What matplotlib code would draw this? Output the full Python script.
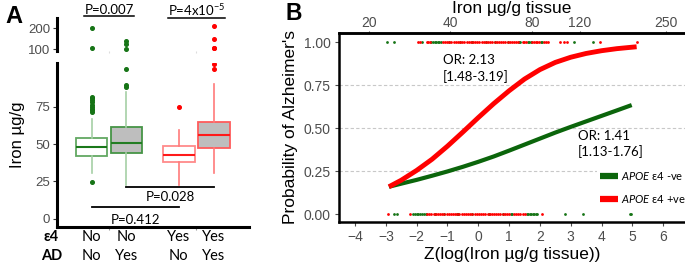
import numpy as np
import matplotlib
matplotlib.use("Agg")
from matplotlib import pyplot as plt
from matplotlib.lines import Line2D

plt.rcParams['font.family'] = ['Liberation Sans', 'DejaVu Sans']
plt.rcParams['mathtext.fontset'] = 'custom'
plt.rcParams['mathtext.rm'] = 'Lato'
plt.rcParams['mathtext.it'] = 'Lato:italic'

CAL = ['Lato', 'DejaVu Sans']

# ---- panel A: brain iron by APOE e4 carrier / AD status ----
e4_labels = ["No", "No", "Yes", "Yes"]
ad_labels = ["No", "Yes", "No", "Yes"]
box_q1 = [42.0, 44.2, 38.2, 47.1]
box_med = [48.0, 50.5, 42.9, 56.1]
box_q3 = [53.9, 61.4, 48.7, 64.8]
whisk_lo = [30.6, 22.5, 22.5, 30.4]
whisk_hi = [66.8, 84.7, 59.6, 90.0]
# outliers drawn in the lower (0-100) segment
fliers_low = [
    [24.8, 71.8, 72.8, 73.8, 75.0, 76.0, 78.2, 79.4, 80.6, 81.8],
    [88.4, 89.4, 100.3],
    [74.6],
    [100.3, 103.4],
]
# outliers drawn in the upper (100-200) segment
fliers_high = [
    [200, 107],
    [141, 126, 101],
    [],
    [211, 147, 107, 104],
]
p_top = ["P=0.007", "P=4x10$^{-5}$"]
p_low = ["P=0.028", "P=0.412"]

# ---- panel B: logistic fits and observed cases ----
z_red = [-2.9, -2.5, -2.0, -1.5, -1.0, -0.5, 0.0, 0.5, 1.0, 1.5, 2.0, 2.5, 3.0, 3.5, 4.0, 4.5, 5.14]
p_red = [0.160, 0.198, 0.255, 0.320, 0.396, 0.478, 0.562, 0.643, 0.718, 0.786, 0.841, 0.883,
         0.913, 0.935, 0.951, 0.963, 0.974]
z_green = [-2.9, -2.5, -2.0, -1.5, -1.0, -0.5, 0.0, 0.5, 1.0, 1.5, 2.0, 2.5, 3.0, 3.5, 4.0, 4.5, 4.98]
p_green = [0.160, 0.178, 0.200, 0.224, 0.249, 0.276, 0.305, 0.336, 0.370, 0.405, 0.440, 0.475,
           0.508, 0.540, 0.572, 0.604, 0.635]

z_green_ad = [-2.96, -2.72, -1.83, -1.52, -1.47, -1.42, -1.37, -1.32, -1.27, -1.22, -0.95, -0.6, -0.2,
              0.25, 0.55, 0.95, 1.33, 1.37, 1.6, 1.65, 1.7, 2.03, 2.07, 3.11, 3.71]
z_red_ad = [-1.96, -1.89, -1.68, -1.63, -1.58, -1.15, -1.08, -1.01, -0.94, -0.87, -0.8, -0.73, -0.66,
            -0.59, -0.52, -0.45, -0.38, -0.31, -0.24, -0.17, -0.1, -0.03, 0.04, 0.11, 0.18, 0.25, 0.32,
            0.39, 0.46, 0.53, 0.6, 0.67, 0.74, 0.81, 0.88, 0.95, 1.02, 1.09, 1.16, 1.23, 1.29, 1.45,
            1.5, 1.56, 1.74, 1.8, 1.86, 1.92, 1.98, 2.14, 2.2, 2.26, 2.64, 2.77, 2.88, 3.94, 5.14]
z_green_ctrl = [-2.75, -2.64, -2.12, -2.06, -2.0, -1.94, -1.88, -1.82, -1.76, -1.7, -1.4, -1.1, -0.7,
                -0.65, -0.2, 0.35, 0.8, 1.05, 1.1, 1.57, 1.62, 1.67, 1.72, 1.77, 1.82, 1.87, 1.9,
                2.81, 3.41, 4.92, 4.97]
z_red_ctrl = [-2.94, -2.21, -1.66, -1.59, -1.52, -1.45, -1.38, -1.31, -1.24, -1.17, -1.1, -1.03, -0.96,
              -0.89, -0.82, -0.75, -0.68, -0.61, -0.54, -0.47, -0.4, -0.33, -0.26, -0.19, -0.12, -0.05,
              0.02, 0.09, 0.16, 0.23, 0.3, 0.37, 0.44, 0.51, 0.58, 0.65, 0.72, 0.79, 0.86, 0.93, 1.0,
              1.15, 1.22, 1.3, 1.37, 1.44, 1.51, 2.06]
iron_ticks = [20, 40, 80, 120, 250]
log_mean, log_sd = 3.925, 0.262

GREEN = '#167416'
RED = '#ff0000'
GREY = '#4d4d4d'

W, H = 685, 268
fig = plt.figure(figsize=(W / 100, H / 100), dpi=100)


def px_axes(x0, y_top, x1, y_bot):
    return fig.add_axes([x0 / W, 1 - y_bot / H, (x1 - x0) / W, (y_bot - y_top) / H])


# ================= panel A =================
axA = px_axes(57, 63.3, 249, 227)
axT = px_axes(57, 18.3, 249, 50.7)
positions = [0.8, 1.2, 1.8, 2.2]

stats = []
for i in range(4):
    stats.append(dict(med=box_med[i], q1=box_q1[i], q3=box_q3[i],
                      whislo=whisk_lo[i], whishi=whisk_hi[i], fliers=fliers_low[i]))
bp = axA.bxp(stats, positions=positions, widths=0.365, patch_artist=True,
             showcaps=False, manage_ticks=False)

edge_cols = ['#62a862', '#469446', '#ff8a8a', '#ff5c5c']
face_cols = ['white', '#bebebe', 'white', '#bebebe']
med_cols = ['#1a781a', '#237d23', '#ff1a1a', '#ff1a1a']
whisk_cols = ['#a6cfa6', '#a6cfa6', '#ff7a7a', '#ff7a7a']
pt_cols = [GREEN, GREEN, RED, RED]
for i in range(4):
    bp['boxes'][i].set(facecolor=face_cols[i], edgecolor=edge_cols[i], linewidth=1.3)
    bp['medians'][i].set(color=med_cols[i], linewidth=1.5)
    for w in bp['whiskers'][2 * i:2 * i + 2]:
        w.set(color=whisk_cols[i], linewidth=1.2)
    bp['fliers'][i].set(marker='o', markersize=2.6, markerfacecolor=pt_cols[i],
                        markeredgecolor=pt_cols[i], linestyle='none')

for i in range(4):
    if fliers_high[i]:
        axT.plot([positions[i]] * len(fliers_high[i]), fliers_high[i], 'o', ms=2.6,
                 color=pt_cols[i], clip_on=False)

axA.set_xlim(0.404, 2.604)
axA.set_ylim(-5.6, 104.2)
axT.set_xlim(0.404, 2.604)
axT.set_ylim(93.3, 247.6)
axA.set_yticks([0, 25, 50, 75])
axT.set_yticks([100, 200])
axA.set_xticks([1, 2])
axA.set_xticklabels([])
axT.set_xticks([1, 2])
axT.set_xticklabels([])
for a in (axA, axT):
    for s in ('top', 'right'):
        a.spines[s].set_visible(False)
    a.spines['left'].set_linewidth(2.2)
    a.spines['bottom'].set_linewidth(2.2)
    a.tick_params(axis='y', length=3, width=0.8, color='#333333', labelsize=9.5,
                  labelcolor=GREY, pad=2)
    a.tick_params(axis='x', length=2.5, width=0.8, color='#999999')
    a.set_facecolor('none')
axT.spines['bottom'].set_visible(False)
axT.tick_params(axis='x', color='#dddddd', length=1.5)

fig.text(17.5 / W, 1 - 135 / H, "Iron µg/g", rotation=90, ha='center', va='center', fontsize=12)
fig.text(14 / W, 1 - 16.5 / H, "A", fontsize=17, fontweight='bold', ha='center', va='center')

xt = axA.get_xaxis_transform()
for i in range(4):
    axA.text(positions[i], -0.059, e4_labels[i], transform=xt, ha='center', va='center',
             fontsize=10.5, family=CAL)
    axA.text(positions[i], -0.178, ad_labels[i], transform=xt, ha='center', va='center',
             fontsize=10.5, family=CAL)
fig.text(51.5 / W, 1 - 237 / H, "ε4", ha='center', va='center', fontsize=10.5,
         fontweight='bold', family=CAL)
fig.text(52 / W, 1 - 256 / H, "AD", ha='center', va='center', fontsize=10.5,
         fontweight='bold', family=CAL)

# p-value brackets
axA.plot([positions[1], positions[3]], [20.9, 20.9], color='black', lw=1.3, clip_on=False)
axA.text((positions[1] + positions[3]) / 2, 14.3, p_low[0], ha='center', va='center',
         fontsize=9.5, family=CAL)
axA.plot([positions[0], positions[2]], [7.6, 7.6], color='black', lw=1.3, clip_on=False)
axA.text((positions[0] + positions[2]) / 2, -0.6, p_low[1], ha='center', va='center',
         fontsize=9.5, family=CAL)

xtT = axT.get_xaxis_transform()
top_txt = []
for k, xc in enumerate([1, 2]):
    top_txt.append(axT.text(xc, 1.257, p_top[k], transform=xtT, ha='center', va='center',
                            fontsize=9.5, family=CAL))

# ================= panel B =================
axB = px_axes(339, 33, 685, 221.5)
axB.set_xlim(-4.52, 6.71)
axB.set_ylim(-0.042, 1.054)
for yv in [0.25, 0.5, 0.75]:
    axB.axhline(yv, color='#c8c8c8', lw=0.8, ls=(0, (3, 2)), zorder=0)

axB.plot(z_green_ad, np.ones(len(z_green_ad)), 'o', ms=2.0, color=GREEN, mew=0, zorder=2)
axB.plot(z_red_ad, np.ones(len(z_red_ad)), 'o', ms=2.0, color=RED, mew=0, zorder=2)
axB.plot(z_green_ctrl, np.zeros(len(z_green_ctrl)), 'o', ms=2.0, color=GREEN, mew=0, zorder=2)
axB.plot(z_red_ctrl, np.zeros(len(z_red_ctrl)), 'o', ms=2.0, color=RED, mew=0, zorder=2)

axB.plot(z_green, p_green, color='#0b650b', lw=3.0, solid_capstyle='butt',
         solid_joinstyle='round', zorder=3, label=r"$\mathit{APOE}$ ε4 -ve")
axB.plot(z_red, p_red, color=RED, lw=3.5, solid_capstyle='butt',
         solid_joinstyle='round', zorder=4, label=r"$\mathit{APOE}$ ε4 +ve")

axB.set_xticks(range(-4, 7))
axB.set_yticks([0, 0.25, 0.5, 0.75, 1.0])
axB.set_yticklabels(["0.00", "0.25", "0.50", "0.75", "1.00"])
axB.tick_params(length=3, width=0.8, color=GREY, labelcolor=GREY, labelsize=10, pad=3)
axB.spines['right'].set_visible(False)
for s in ('left', 'bottom', 'top'):
    axB.spines[s].set_linewidth(1.8)
axB.set_xlabel("Z(log(Iron µg/g tissue))", fontsize=12.5, labelpad=2)
axB.set_ylabel("Probability of Alzheimer's", fontsize=12.5, labelpad=4)

secax = axB.secondary_xaxis('top', functions=(
    lambda z: np.exp(np.asarray(z) * log_sd + log_mean),
    lambda v: (np.log(np.clip(np.asarray(v, dtype=float), 1e-9, None)) - log_mean) / log_sd))
secax.set_xticks(iron_ticks)
secax.set_xticklabels([str(v) for v in iron_ticks])
secax.tick_params(length=1.5, width=0.8, color=GREY, labelcolor=GREY, labelsize=10, pad=0.5)
secax.spines['top'].set_linewidth(1.8)
secax.set_xlabel("Iron µg/g tissue", fontsize=12.5, labelpad=2)

axB.text(-1.15, 0.848, "OR: 2.13\n[1.48-3.19]", fontsize=9.5, family=CAL, va='center',
         ha='left', linespacing=1.3)
axB.text(3.24, 0.408, "OR: 1.41\n[1.13-1.76]", fontsize=9.5, family=CAL, va='center',
         ha='left', linespacing=1.3)

leg = axB.legend(loc='upper left', bbox_to_anchor=(597 / W, 1 - 167 / H),
                 bbox_transform=fig.transFigure, frameon=True, fancybox=False,
                 edgecolor='none', facecolor='white', framealpha=1, fontsize=8,
                 handlelength=1.6, handletextpad=0.25, labelspacing=0.95, borderpad=0.3,
                 borderaxespad=0)
for ln in leg.get_lines():
    ln.set_linewidth(4.5)
for t in leg.get_texts():
    t.set_family(CAL)

fig.text(294 / W, 1 - 13.3 / H, "B", fontsize=16.5, fontweight='bold', ha='center', va='center')

# underline the top p-values
fig.canvas.draw()
for t in top_txt:
    bb = t.get_window_extent()
    yl = bb.y0 - 0.5
    fig.add_artist(Line2D([bb.x0 / W, bb.x1 / W], [yl / H, yl / H], color='black', lw=1.1))

fig.savefig("out.png", dpi=100)
